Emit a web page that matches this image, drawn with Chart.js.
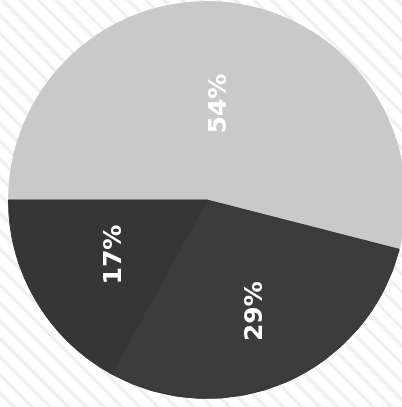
<!DOCTYPE html>
<html>
<head>
<meta charset="utf-8">
<script src="https://cdn.jsdelivr.net/npm/chart.js@4.4.0/dist/chart.umd.min.js"></script>
<style>
  html, body {
    margin: 0;
    padding: 0;
    width: 402px;
    height: 407px;
    overflow: hidden;
    background: repeating-linear-gradient(45deg, #ffffff 0px, #ffffff 7.5px, #eeeeee 9.5px, #eeeeee 10.5px, #ffffff 12.7px);
  }
  #pie {
    position: absolute;
    left: 8px;
    top: 1px;
  }
</style>
</head>
<body>
<canvas id="pie" width="398" height="398"></canvas>
<script>
// slice data
const categories = ['Segment A', 'Segment B', 'Segment C'];
const shares = [54, 29, 17];
const sliceColors = ['#c9c9c9', '#3c3c3c', '#363636'];

// white rotated percent labels inside slices
const labelRadius = [0.49, 0.61, 0.54];

const pctLabels = {
  id: 'pctLabels',
  afterDatasetsDraw(chart) {
    const ctx = chart.ctx;
    const arcs = chart.getDatasetMeta(0).data;
    const total = shares.reduce((a, b) => a + b, 0);
    arcs.forEach((arc, i) => {
      const p = arc.getProps(['x', 'y', 'startAngle', 'endAngle', 'outerRadius'], true);
      const mid = (p.startAngle + p.endAngle) / 2;
      const r = p.outerRadius * labelRadius[i];
      const lx = p.x + Math.cos(mid) * r;
      const ly = p.y + Math.sin(mid) * r;
      ctx.save();
      ctx.translate(lx, ly);
      ctx.rotate(-Math.PI / 2);
      ctx.fillStyle = '#ffffff';
      ctx.font = 'bold 25px "DejaVu Sans"';
      ctx.textAlign = 'center';
      ctx.textBaseline = 'middle';
      ctx.fillText(Math.round(shares[i] / total * 100) + '%', 0, 0);
      ctx.restore();
    });
  }
};

let ctx = document.getElementById('pie').getContext('2d');
window.chart = new Chart(ctx, {
  type: 'pie',
  data: {
    labels: categories,
    datasets: [{
      data: shares,
      backgroundColor: sliceColors,
      borderColor: ['#c9c9c9', '#333333', '#333333'],
      borderWidth: 1
    }]
  },
  options: {
    responsive: false,
    devicePixelRatio: 1,
    animation: false,
    rotation: -90,
    layout: { padding: 0 },
    plugins: {
      legend: { display: false },
      tooltip: { enabled: false }
    }
  },
  plugins: [pctLabels]
});
</script>
</body>
</html>
